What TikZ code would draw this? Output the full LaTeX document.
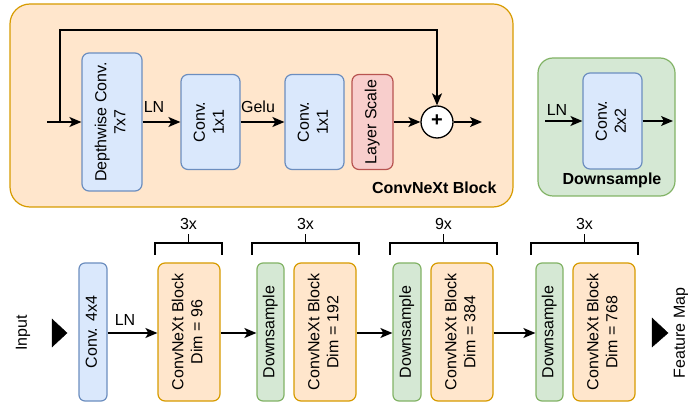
\documentclass[tikz,border=0pt]{standalone}
\usepackage{fontspec}
\setmainfont{Liberation Sans}
\usetikzlibrary{arrows.meta}
\definecolor{bluefill}{HTML}{DAE8FC}
\definecolor{bluedraw}{HTML}{6C8EBF}
\definecolor{orangefill}{HTML}{FFE6CC}
\definecolor{orangedraw}{HTML}{D79B00}
\definecolor{greenfill}{HTML}{D5E8D4}
\definecolor{greendraw}{HTML}{82B366}
\definecolor{redfill}{HTML}{F8CECC}
\definecolor{reddraw}{HTML}{B85450}
\newcommand{\vtext}[1]{\rotatebox{90}{\begin{tabular}{@{}c@{}}#1\end{tabular}}}
\begin{document}
\begin{tikzpicture}[x=1pt,y=-1pt,
  font=\fontsize{16}{19}\selectfont,
  box/.style={draw, line width=1.2pt, rounded corners=7pt, inner sep=0pt},
  bluebox/.style={box, fill=bluefill, draw=bluedraw},
  orangebox/.style={box, fill=orangefill, draw=orangedraw},
  greenbox/.style={box, fill=greenfill, draw=greendraw},
  redbox/.style={box, fill=redfill, draw=reddraw},
  conn/.style={line width=1.4pt, -{Stealth[length=12pt,width=10pt,inset=3pt]}},
  brace/.style={line width=1.3pt},
  lbl/.style={inner sep=1pt},
  tri/.style={fill=black},
]
\useasboundingbox (0,0) rectangle (688,403);

% ---------- ConvNeXt block detail ----------
\node[box, fill=orangefill, draw=orangedraw, rounded corners=20pt,
      minimum width=503pt, minimum height=203pt] (blockbg) at (261.5,105.5) {};
\node[font=\fontsize{16}{19}\selectfont\bfseries, anchor=east] (blocktitle) at (500,188) {ConvNeXt Block};

\node[bluebox, minimum width=60pt, minimum height=138pt] (dw) at (112,122) {\vtext{Depthwise Conv.\\7x7}};
\node[bluebox, minimum width=59pt, minimum height=95pt] (pw1) at (210.5,122) {\vtext{Conv.\\1x1}};
\node[bluebox, minimum width=59pt, minimum height=95pt] (pw2) at (314.5,122) {\vtext{Conv.\\1x1}};
\node[redbox, minimum width=41pt, minimum height=95pt] (ls) at (372.5,122) {\vtext{Layer Scale}};
\node[draw, fill=white, circle, line width=1.3pt, minimum size=32pt, inner sep=0pt] (add) at (437,122) {};
\node[font=\fontsize{20}{22}\selectfont\bfseries, inner sep=0pt] (plus) at (437,121) {+};

\coordinate (blockin) at (47,122);
\coordinate (split) at (60,122);
\coordinate (blockout) at (482,122);

\draw[conn] (blockin) -- (dw.west);
\draw[conn] (split) |- (437,30) -- (add.north);
\draw[conn] (dw.east) -- (pw1.west);
\draw[conn] (pw1.east) -- (pw2.west);
\draw[conn] (ls.east) -- (add.west);
\draw[conn] (add.east) -- (blockout);
\node[lbl] (lnA) at (154,107) {LN};
\node[lbl] (gelu) at (258,107) {Gelu};

% ---------- Downsample detail ----------
\node[box, fill=greenfill, draw=greendraw, rounded corners=15pt,
      minimum width=137pt, minimum height=138pt] (dsbg) at (606.5,127) {};
\node[bluebox, minimum width=59pt, minimum height=96pt] (dsconv) at (612.5,121) {\vtext{Conv.\\2x2}};
\node[font=\fontsize{16}{19}\selectfont\bfseries] (dstitle) at (612,180) {Downsample};
\coordinate (dsin) at (545,121);
\coordinate (dsout) at (673,121);
\draw[conn] (dsin) -- (dsconv.west);
\draw[conn] (dsconv.east) -- (dsout);
\node[lbl] (lnB) at (557,110) {LN};

% ---------- Overall pipeline ----------
\node[rotate=90] (input) at (23,333) {Input};
\filldraw[tri] (52,319) -- (52,347) -- (67,333) -- cycle;

\node[bluebox, minimum width=28pt, minimum height=138pt, rounded corners=6pt] (stem) at (93,332) {\vtext{Conv. 4x4}};
\node[orangebox, minimum width=62pt, minimum height=138pt] (cb1) at (189,332) {\vtext{ConvNeXt Block\\Dim = 96}};
\node[greenbox, minimum width=27pt, minimum height=138pt, rounded corners=6pt] (ds1) at (270.5,332) {\vtext{Downsample}};
\node[orangebox, minimum width=62pt, minimum height=138pt] (cb2) at (325,332) {\vtext{ConvNeXt Block\\Dim = 192}};
\node[greenbox, minimum width=28pt, minimum height=138pt, rounded corners=6pt] (ds2) at (407,332) {\vtext{Downsample}};
\node[orangebox, minimum width=62pt, minimum height=138pt] (cb3) at (462,332) {\vtext{ConvNeXt Block\\Dim = 384}};
\node[greenbox, minimum width=27pt, minimum height=138pt, rounded corners=6pt] (ds3) at (549.5,332) {\vtext{Downsample}};
\node[orangebox, minimum width=62pt, minimum height=138pt] (cb4) at (604,332) {\vtext{ConvNeXt Block\\Dim = 768}};

\draw[conn] (stem.east |- 0,333) -- (cb1.west |- 0,333);
\node[lbl] (lnC) at (125,320) {LN};
\draw[conn] (cb1.east |- 0,333) -- (ds1.west |- 0,333);
\draw[conn] (cb2.east |- 0,333) -- (ds2.west |- 0,333);
\draw[conn] (cb3.east |- 0,333) -- (ds3.west |- 0,333);

\filldraw[tri] (652,318) -- (652,347) -- (668,333) -- cycle;
\node[rotate=90] (fmap) at (681,333) {Feature Map};

% repetition brackets
\foreach \l/\r/\n [count=\i] in {155/222/3x, 252/359/3x, 390/497/9x, 531/638/3x}{
  \draw[brace] (\l,255) -- (\l,243) -- (\r,243) -- (\r,255);
  \draw[brace] ({(\l+\r)/2},243) -- ({(\l+\r)/2},234);
  \node (rep\i) at ({(\l+\r)/2},224) {\n};
}
\end{tikzpicture}
\end{document}
